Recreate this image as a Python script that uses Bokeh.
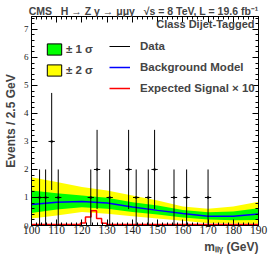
import math
from bokeh.plotting import figure
from bokeh.models import Range1d, LinearAxis, FixedTicker, Label, Legend, LegendItem, Title
from bokeh.embed import file_html
from bokeh.resources import INLINE

# ---- data ----
data_mass = [103.2, 105.6, 108.0, 110.6, 123.5, 126.0, 131.0, 138.5, 141.5, 146.3, 148.8, 156.5, 161.5, 170.0]
data_counts = [1, 1, 3, 1, 1, 2, 1, 2, 1, 1, 2, 1, 1, 1]
bin_width = 2.5

band_mass = [100, 110, 120, 130, 140, 150, 160, 170, 180, 190]
bkg_model = [0.75, 0.83, 0.86, 0.80, 0.66, 0.54, 0.43, 0.33, 0.33, 0.41]
one_sigma_lo = [0.45, 0.57, 0.65, 0.60, 0.48, 0.39, 0.29, 0.21, 0.19, 0.20]
one_sigma_hi = [1.25, 1.15, 1.07, 0.99, 0.83, 0.71, 0.55, 0.47, 0.50, 0.62]
two_sigma_lo = [0.25, 0.36, 0.48, 0.42, 0.33, 0.25, 0.17, 0.08, 0.07, 0.06]
two_sigma_hi = [1.72, 1.55, 1.37, 1.25, 1.07, 0.89, 0.68, 0.60, 0.68, 0.85]

signal_edges = [100, 119.4, 121.4, 123.6, 125.8, 127.8, 129.8, 190]
signal_x10 = [0.04, 0.09, 0.30, 0.53, 0.25, 0.08, 0.04]

x_ticks = [100, 110, 120, 130, 140, 150, 160, 170, 180, 190]
y_ticks = [0, 1, 2, 3, 4, 5, 6, 7]

SANS = "Liberation Sans"
SERIF = "Liberation Serif"
NB = "\u00a0"

p = figure(width=270, height=265, x_range=Range1d(100, 190), y_range=Range1d(0, 7.46),
           output_backend="svg", toolbar_location=None,
           min_border_left=29, min_border_right=12, min_border_top=16, min_border_bottom=40)
p.xgrid.visible = False
p.ygrid.visible = False
p.outline_line_color = "black"
p.background_fill_color = "white"

# title (above the frame, right-aligned like the reference)
p.title.text = ("CMS" + NB * 3 + "H → Z γ → μμγ" + NB * 3 + "√s = 8 TeV, L = 19.6 fb⁻¹")
p.title.align = "right"
p.title.vertical_align = "top"
p.title.text_font = SANS
p.title.text_font_style = "bold"
p.title.text_font_size = "10.5px"
p.title.standoff = -5

x_minor = [100 + 2 * i for i in range(46)]
y_minor = [round(0.2 * i, 2) for i in range(38)]
xt = FixedTicker(ticks=x_ticks, minor_ticks=x_minor)
yt = FixedTicker(ticks=y_ticks, minor_ticks=y_minor)


def style_axis(ax, ticker, show_labels, font_size, ticks):
    ax.ticker = ticker
    ax.axis_line_color = "black"
    ax.major_tick_in = 6
    ax.major_tick_out = 0
    ax.minor_tick_in = 3
    ax.minor_tick_out = 0
    ax.major_tick_line_color = "black"
    ax.minor_tick_line_color = "black"
    if show_labels:
        ax.major_label_text_font = SERIF
        ax.major_label_text_font_size = font_size
        ax.major_label_text_color = "#222222"
    else:
        ax.major_label_overrides = {t: "" for t in ticks}
        ax.major_label_text_font_size = "1px"
        ax.major_label_standoff = 0


style_axis(p.xaxis[0], xt, True, "11.5px", x_ticks)
p.xaxis[0].major_label_standoff = 0
style_axis(p.yaxis[0], yt, True, "9px", y_ticks)
p.yaxis[0].major_label_standoff = 3
p.yaxis[0].axis_label = "Events / 2.5 GeV"
p.yaxis[0].axis_label_text_font = SANS
p.yaxis[0].axis_label_text_font_style = "bold"
p.yaxis[0].axis_label_text_font_size = "12px"
p.yaxis[0].axis_label_standoff = 3

top_axis = LinearAxis()
style_axis(top_axis, xt, False, None, x_ticks)
p.add_layout(top_axis, "above")
right_axis = LinearAxis()
style_axis(right_axis, yt, False, None, y_ticks)
p.add_layout(right_axis, "right")

# x-axis title, right-aligned under the frame
p.add_layout(Title(text="mₗₗᵧ (GeV)", align="right", text_font=SANS, text_font_style="bold",
                   text_font_size="12px", standoff=2), "below")

# bands and background
p.varea(x=band_mass, y1=two_sigma_lo, y2=two_sigma_hi, fill_color="#ffff00")
p.varea(x=band_mass, y1=one_sigma_lo, y2=one_sigma_hi, fill_color="#00ff00")
r_bkg = p.line(band_mass, bkg_model, line_color="#0000ff", line_width=1.5)

# signal histogram
r_sig = p.step(x=signal_edges, y=signal_x10 + [signal_x10[-1]], mode="after",
               line_color="#ff0000", line_width=1.5)

# data with errors
half = bin_width / 2
r_xerr = p.segment(x0=[m - half for m in data_mass], y0=data_counts,
                   x1=[m + half for m in data_mass], y1=data_counts, line_color="black", line_width=1)
p.segment(x0=data_mass, y0=[c - math.sqrt(c) for c in data_counts],
          x1=data_mass, y1=[c + math.sqrt(c) for c in data_counts], line_color="black", line_width=1)
r_pts = p.scatter(data_mass, data_counts, size=2.5, marker="circle", fill_color="black",
                  line_color=None)

# legend swatches (degenerate boxes at the frame corner, only their legend glyph is seen)
r_g = p.quad(left=band_mass[:1], right=band_mass[:1], top=[0], bottom=[0],
             fill_color="#00ff00", line_color="black", line_width=1)
r_y = p.quad(left=band_mass[:1], right=band_mass[:1], top=[0], bottom=[0],
             fill_color="#ffff00", line_color="black", line_width=1)


def make_legend(items, loc, gw, standoff):
    return Legend(items=items, location=loc, glyph_width=gw, glyph_height=14, spacing=7,
                  label_standoff=standoff, label_height=14, padding=0, margin=0,
                  border_line_alpha=0, background_fill_alpha=0,
                  label_text_font=SANS, label_text_font_style="bold", label_text_font_size="11.5px")


leg1 = make_legend([LegendItem(label="± 1 σ", renderers=[r_g]),
                    LegendItem(label="± 2 σ", renderers=[r_y])], (14, 148), 18, 3)
leg2 = make_legend([LegendItem(label="Data", renderers=[r_xerr]),
                    LegendItem(label="Background Model", renderers=[r_bkg]),
                    LegendItem(label="Expected Signal × 10", renderers=[r_sig])], (78, 130), 21, 10)
p.add_layout(leg1)
p.add_layout(leg2)

p.add_layout(Label(x=188.4, y=7.21, text="Class Dijet-Tagged", text_font=SANS, text_font_style="bold",
                   text_font_size="11px", text_baseline="middle", text_align="right"))

open("out.html", "w").write(file_html(p, INLINE))
